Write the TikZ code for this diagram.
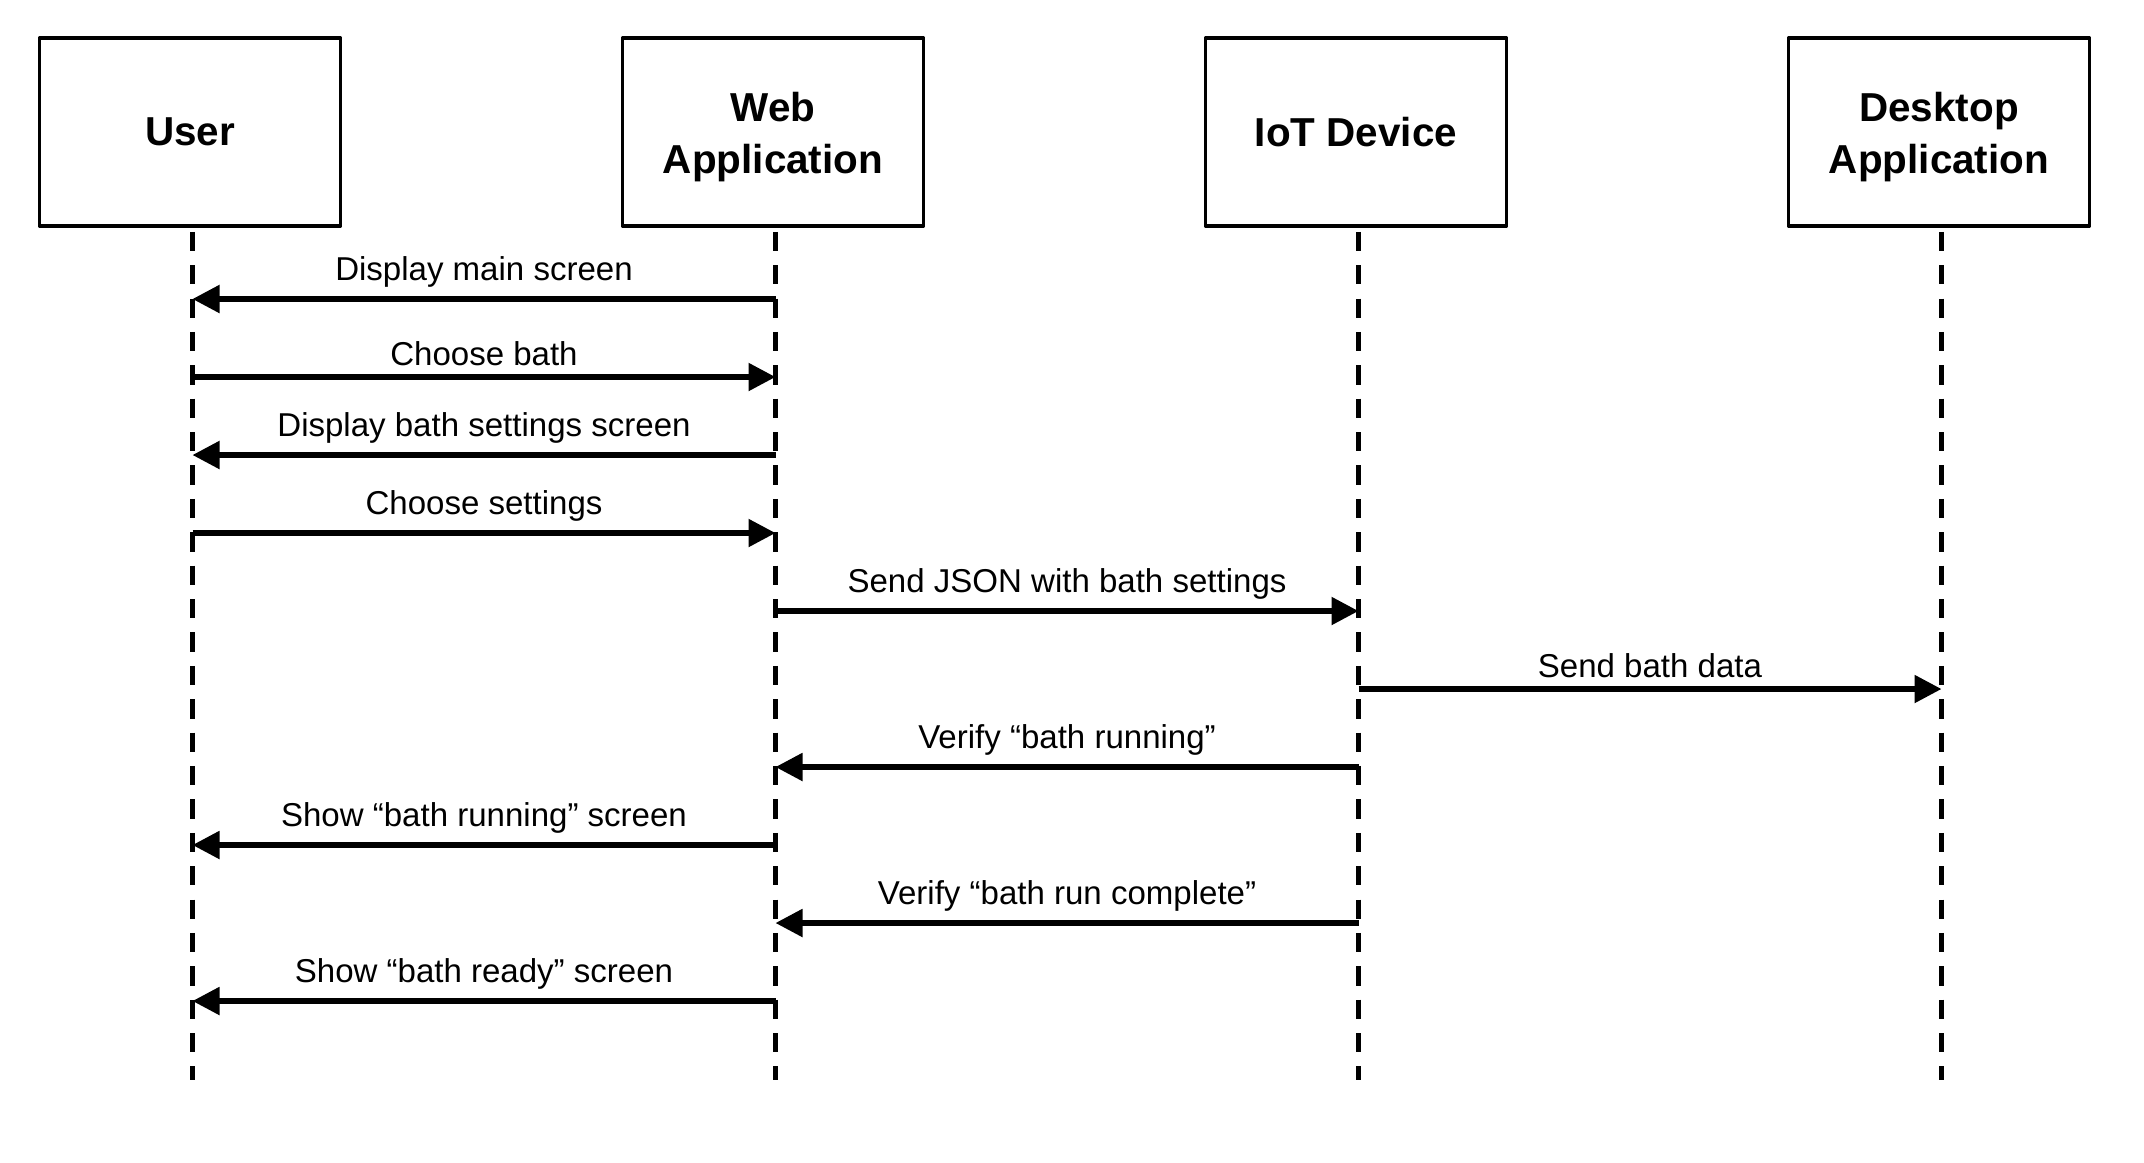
\documentclass[tikz,border=0pt]{standalone}
\usepackage{fontspec}
\setmainfont{Liberation Sans}
\usetikzlibrary{arrows.meta}
\begin{document}
\begin{tikzpicture}[line join=round,font=\fontsize{9.4}{11}\selectfont,
    actor/.style={draw,line width=1pt,minimum width=3.01cm,minimum height=1.88cm,align=center,
        font=\fontsize{11.5}{14.8}\selectfont\bfseries},
    lifeline/.style={line width=1.5pt,dash pattern=on 5.5pt off 4pt},
    msg/.style={line width=1.5pt,-{Triangle[length=0.27cm,width=0.27cm]}}]
    \def\top{-1.32} % centre of the boxes
    \def\bot{-10.80}
    \useasboundingbox (0,0) rectangle (21.44,-11.62);
    \node[actor] (user) at (1.90,\top) {User};
    \node[actor] (web) at (7.73,\top) {\rule{0pt}{11pt}Web\\Application};
    \node[actor] (iot) at (13.56,\top) {IoT Device};
    \node[actor] (desk) at (19.39,\top) {\rule{0pt}{11pt}Desktop\\Application};
    \coordinate (end) at (0,\bot);
    \foreach \a in {user,web,iot,desk}{
        \coordinate (ll-\a) at ([xshift=0.025cm,yshift=-0.04cm]\a.south);
        \draw[lifeline] (ll-\a) -- (ll-\a |- end);
    }
    % messages
    \foreach \i/\from/\to/\txt in {1/web/user/Display main screen,2/user/web/Choose bath,
        3/web/user/Display bath settings screen,4/user/web/Choose settings,
        5/web/iot/Send JSON with bath settings,6/iot/desk/Send bath data,
        7/iot/web/Verify “bath running”,8/web/user/Show “bath running” screen,
        9/iot/web/Verify “bath run complete”,10/web/user/Show “bath ready” screen}{
        \coordinate (m\i) at (0,{-2.99-0.78*(\i-1)});
        \draw[msg] (ll-\from |- m\i) -- (ll-\to |- m\i) node[midway,above,inner sep=2.5pt]{\txt};
    }
\end{tikzpicture}
\end{document}
